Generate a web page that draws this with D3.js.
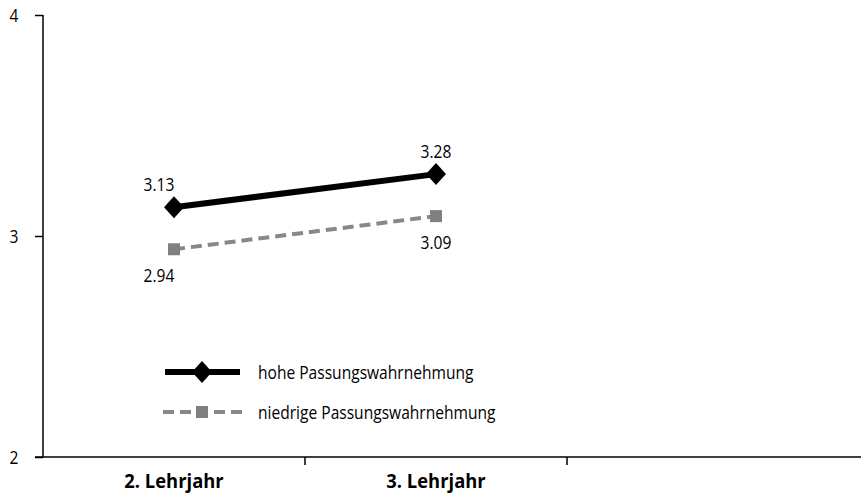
<!DOCTYPE html>
<html><head><meta charset="utf-8">
<script src="https://cdn.jsdelivr.net/npm/d3@7"></script>
<style>body{margin:0;background:#fff}svg{display:block}text{font-family:"Open Sans",sans-serif}</style>
</head><body><svg id="c" width="861" height="495"></svg>
<script>
const categories = ["2. Lehrjahr", "3. Lehrjahr", ""];
const seriesNames = ["hohe Passungswahrnehmung", "niedrige Passungswahrnehmung"];
const hoheValues = [3.13, 3.28];
const niedrigeValues = [2.94, 3.09];
const yTicks = [2, 3, 4];

const svg = d3.select("#c");
const x = d3.scaleBand().domain(categories).range([43, 829]);
const y = d3.scaleLinear().domain([2, 4]).range([457, 15]);

function ctext(parent, px, py, str, opts) {
  const o = Object.assign({size: 19, sx: 0.82, anchor: "start", weight: "normal"}, opts || {});
  parent.append("text")
    .attr("transform", `translate(${px},${py}) scale(${o.sx},1)`)
    .attr("text-anchor", o.anchor)
    .style("font-size", o.size + "px").style("font-weight", o.weight)
    .attr("fill", "#000").text(str);
}

// y axis
const yAxis = d3.axisLeft(y).tickValues(yTicks).tickSize(8).tickFormat("");
const gy = svg.append("g").attr("transform", "translate(43,0)").call(yAxis);
gy.select(".domain").attr("stroke", "#000").attr("stroke-width", 1.5).attr("d", "M0," + y(4) + "V" + y(2));
gy.selectAll(".tick line").attr("stroke-width", 1.5);
yTicks.forEach(t => ctext(svg, 14, y(t) + 7, d3.format("d")(t), {anchor: "middle"}));

// x axis
const gx = svg.append("g").attr("transform", "translate(0," + y(2) + ")");
gx.append("line").attr("x1", 35).attr("x2", 861).attr("stroke", "#000").attr("stroke-width", 1.5);
gx.selectAll(".xt").data(categories.slice(1)).join("line")
  .attr("x1", d => x(d)).attr("x2", d => x(d)).attr("y1", 0).attr("y2", 8)
  .attr("stroke", "#000").attr("stroke-width", 1.5);
categories.filter(c => c).forEach(c =>
  ctext(svg, x(c) + x.bandwidth() / 2, y(2) + 31, c, {anchor: "middle", weight: "bold", size: 20, sx: 0.92}));

const cx = i => x(categories[i]) + x.bandwidth() / 2;
const line = d3.line().x((d, i) => cx(i)).y(d => y(d));

// niedrige
svg.append("path").datum(niedrigeValues).attr("d", line).attr("fill", "none")
  .attr("stroke", "#888").attr("stroke-width", 4).attr("stroke-dasharray", "11,6");
svg.selectAll(".sq").data(niedrigeValues).join("rect")
  .attr("x", (d, i) => cx(i) - 6).attr("y", d => y(d) - 6).attr("width", 12).attr("height", 12).attr("fill", "#808080");

// hohe
svg.append("path").datum(hoheValues).attr("d", line).attr("fill", "none")
  .attr("stroke", "#000").attr("stroke-width", 6);
const diamond = (px, py) => `M${px},${py - 11}L${px + 10},${py}L${px},${py + 11}L${px - 10},${py}Z`;
svg.selectAll(".dm").data(hoheValues).join("path")
  .attr("d", (d, i) => diamond(cx(i), y(d))).attr("fill", "#000");

// value labels
hoheValues.forEach((d, i) => ctext(svg, cx(i) - (i === 0 ? 15 : 0), y(d) - 16, d.toFixed(2), {anchor: "middle"}));
niedrigeValues.forEach((d, i) => ctext(svg, cx(i) - (i === 0 ? 15 : 0), y(d) + 33, d.toFixed(2), {anchor: "middle"}));

// legend
const lg = svg.append("g");
lg.append("line").attr("x1", 165).attr("x2", 240).attr("y1", 372).attr("y2", 372).attr("stroke", "#000").attr("stroke-width", 6);
lg.append("path").attr("d", diamond(202, 372)).attr("fill", "#000");
ctext(lg, 258, 379, seriesNames[0]);
lg.append("line").attr("x1", 163).attr("x2", 242).attr("y1", 412).attr("y2", 412).attr("stroke", "#888").attr("stroke-width", 4).attr("stroke-dasharray", "11,6");
lg.append("rect").attr("x", 196).attr("y", 406).attr("width", 12).attr("height", 12).attr("fill", "#808080");
ctext(lg, 258, 419, seriesNames[1]);
</script></body></html>
